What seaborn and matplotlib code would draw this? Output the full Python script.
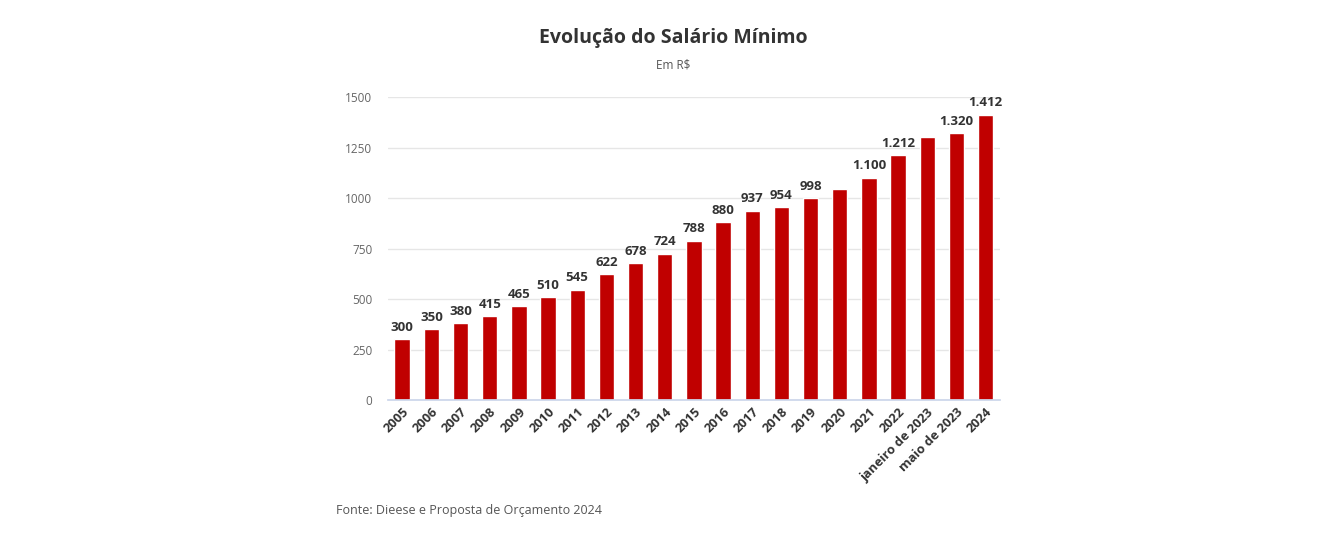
import numpy as np
import pandas as pd
import seaborn as sns
import matplotlib
matplotlib.use('Agg')
import matplotlib.pyplot as plt

anos = ['2005', '2006', '2007', '2008', '2009', '2010', '2011', '2012', '2013', '2014',
        '2015', '2016', '2017', '2018', '2019', '2020', '2021', '2022',
        'janeiro de 2023', 'maio de 2023', '2024']
salario = [300, 350, 380, 415, 465, 510, 545, 622, 678, 724,
           788, 880, 937, 954, 998, 1045, 1100, 1212, 1302, 1320, 1412]
# rotulos visiveis (2020 e janeiro de 2023 ficam sem rotulo no original)
rotulos = ['300', '350', '380', '415', '465', '510', '545', '622', '678', '724',
           '788', '880', '937', '954', '998', '', '1.100', '1.212', '', '1.320', '1.412']
yticks = [0, 250, 500, 750, 1000, 1250, 1500]

sns.set_theme(style='white')
plt.rcParams['font.family'] = ['Open Sans', 'DejaVu Sans']

db = pd.DataFrame({'ano': anos, 'salario': salario})

fig = plt.figure(figsize=(13.23, 5.58), dpi=100)
ax = fig.add_axes([0.293, 0.283, 0.463, 0.543])

sns.barplot(data=db, x='ano', y='salario', color='#c00000', saturation=1,
            width=0.53, ax=ax)

ax.set_ylim(0, 1500)
ax.set_xlim(-0.5, len(anos) - 0.5)
ax.set_yticks(yticks)
ax.set_yticklabels([str(v) for v in yticks], color='#666666', fontsize=8.5)
ax.yaxis.grid(True, color='#e6e6e6', linewidth=1)
ax.set_axisbelow(True)
ax.tick_params(axis='y', length=0, pad=11)

ax.set_xticks(range(len(anos)))
ax.set_xticklabels(anos, rotation=45, ha='right', rotation_mode='anchor',
                   fontsize=9.3, fontweight='bold', color='#333333')
ax.tick_params(axis='x', which='major', length=0, pad=4)
ax.set_xticks(np.arange(-0.5, len(anos), 1), minor=True)
ax.tick_params(axis='x', which='minor', length=8, color='#ccd6eb', width=1)

for s in ['top', 'right', 'left']:
    ax.spines[s].set_visible(False)
ax.spines['bottom'].set_color('#ccd6eb')
ax.set_xlabel('')
ax.set_ylabel('')

for p, txt in zip(ax.patches, rotulos):
    if txt:
        ax.annotate(txt, (p.get_x() + p.get_width() / 2, p.get_height()),
                    xytext=(0, 4), textcoords='offset points', ha='center', va='bottom',
                    fontsize=9.5, fontweight='bold', color='#333333')

fig.text(0.509, 0.932, 'Evolução do Salário Mínimo', ha='center', va='center',
         fontsize=14, fontweight='bold', color='#333333')
fig.text(0.509, 0.884, 'Em R$', ha='center', va='center', fontsize=8.5, color='#555555')
fig.text(0.254, 0.086, 'Fonte: Dieese e Proposta de Orçamento 2024', ha='left', va='center',
         fontsize=9, color='#555555')

plt.savefig('out.png', dpi=100, facecolor='white')
